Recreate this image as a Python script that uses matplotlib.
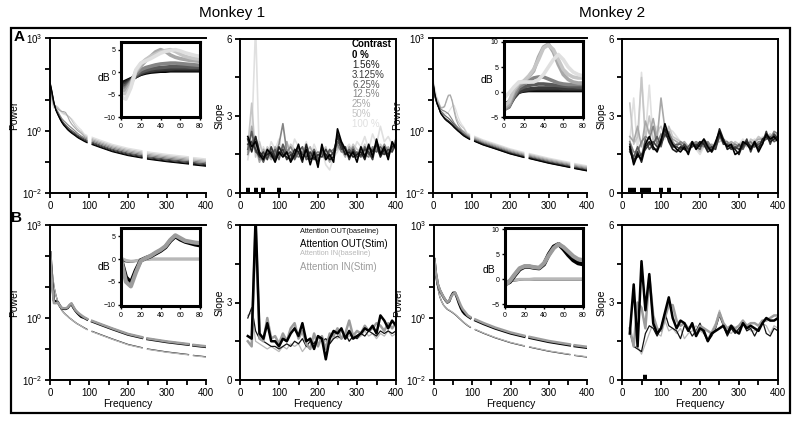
import numpy as np
import matplotlib.pyplot as plt
from matplotlib.patches import Rectangle
from matplotlib.ticker import NullLocator

plt.rcParams['font.family'] = ['Liberation Sans', 'DejaVu Sans']
plt.rcParams['axes.linewidth'] = 1.4

# ---------------- data ----------------
contrasts = ['0 %', '1.56%', '3.125%', '6.25%', '12.5%', '25%', '50%', '100 %']
contrast_colors = ['#000000', '#1e1e1e', '#3a3a3a', '#5a5a5a', '#858585', '#a8a8a8', '#c6c6c6', '#e0e0e0']

# frequency grids
freq_ins = [0, 5, 10, 15, 20, 25, 30, 35, 40, 45, 50, 55, 60, 65, 70, 75, 80]
freq_low = [1, 5, 10, 15, 20, 25, 30, 35, 40, 45, 50, 55, 60, 65, 70, 75, 80]
freq_high = [88, 95, 100, 108, 130, 160, 200, 236, 243, 250, 300, 355, 362, 368, 400]
freq_slope = [20, 30, 40, 50, 60, 70, 80, 90, 100, 110, 120, 130, 140, 150, 160, 170, 180, 190, 200,
              210, 220, 230, 240, 250, 260, 270, 280, 290, 300, 310, 320, 330, 340, 350, 360, 370, 380, 390, 400]

nan = np.nan
# pre-stimulus power spectra (line-noise bins removed)
m1_base_low = [60, 30, 12, 6.0, 3.8, 2.6, 1.9, 1.5, 1.25, 1.05, 0.9, 0.8, 0.72, 0.65, 0.58, 0.53, 0.49]
m1_base_high = [0.43, 0.39, nan, 0.34, 0.27, 0.2, 0.15, 0.125, nan, 0.115, 0.095, 0.08, nan, 0.075, 0.068]
m2_base_low = [60, 25, 10, 5.5, 3.5, 2.8, 2.3, 2.0, 1.8, 1.6, 1.4, 1.2, 1.05, 0.92, 0.82, 0.72, 0.64]
m2_base_high = [0.56, 0.5, nan, 0.43, 0.33, 0.25, 0.17, 0.13, nan, 0.12, 0.085, 0.062, nan, 0.057, 0.048]

# dB change per contrast (inset), 0-80 Hz
m1_db = [
    [-2.5, -2.0, -1.5, -1.0, -0.5, -0.2, 0.0, 0.1, 0.2, 0.2, 0.3, 0.3, 0.3, 0.3, 0.3, 0.3, 0.3],
    [-2.8, -2.2, -1.6, -1.0, -0.4, 0.0, 0.2, 0.3, 0.4, 0.4, 0.5, 0.5, 0.5, 0.5, 0.5, 0.5, 0.5],
    [-3.0, -2.6, -1.8, -1.0, -0.3, 0.1, 0.3, 0.5, 0.6, 0.7, 0.7, 0.8, 0.8, 0.8, 0.8, 0.8, 0.8],
    [-3.3, -3.0, -2.0, -0.8, 0.0, 0.4, 0.7, 0.9, 1.0, 1.1, 1.2, 1.2, 1.2, 1.2, 1.1, 1.1, 1.1],
    [-3.8, -3.5, -2.2, -0.5, 0.5, 1.0, 1.3, 1.6, 1.8, 1.9, 2.0, 2.0, 1.9, 1.8, 1.7, 1.6, 1.5],
    [-4.2, -4.0, -2.5, 0.0, 1.3, 2.5, 3.5, 4.5, 5.0, 4.6, 3.8, 3.3, 3.0, 2.8, 2.6, 2.5, 2.4],
    [-4.8, -4.8, -3.0, 0.2, 1.8, 2.8, 3.5, 4.0, 4.5, 4.8, 5.0, 4.6, 4.0, 3.5, 3.2, 3.0, 2.9],
    [-5.5, -6.0, -3.5, 0.5, 2.0, 2.5, 3.0, 3.6, 4.2, 4.6, 4.8, 5.0, 4.7, 4.3, 4.0, 3.7, 3.5],
]
m2_db = [
    [-2.5, -2.0, -0.8, 0.0, 0.2, 0.3, 0.3, 0.3, 0.3, 0.3, 0.3, 0.3, 0.3, 0.3, 0.3, 0.3, 0.3],
    [-3.0, -2.5, -1.0, 0.0, 0.3, 0.4, 0.5, 0.5, 0.5, 0.5, 0.5, 0.5, 0.5, 0.5, 0.5, 0.5, 0.5],
    [-3.2, -2.8, -1.2, 0.0, 0.4, 0.6, 0.7, 0.8, 0.8, 0.8, 0.8, 0.8, 0.7, 0.7, 0.7, 0.7, 0.7],
    [-3.5, -3.0, -1.0, 0.5, 1.0, 1.3, 1.5, 1.6, 1.6, 1.5, 1.4, 1.3, 1.2, 1.1, 1.1, 1.0, 1.0],
    [-3.5, -3.0, -0.8, 1.0, 1.6, 2.2, 2.8, 3.0, 3.0, 2.6, 2.2, 1.8, 1.6, 1.5, 1.5, 1.5, 1.5],
    [-3.2, -2.5, 0.0, 1.5, 2.0, 3.0, 4.2, 7.0, 9.0, 9.6, 8.0, 5.5, 3.5, 2.5, 2.0, 1.8, 1.8],
    [-2.8, -2.0, 0.5, 1.8, 2.2, 3.2, 4.5, 6.5, 8.8, 9.4, 8.5, 6.5, 4.5, 3.5, 3.0, 2.8, 2.8],
    [-1.2, -0.2, 1.0, 2.0, 2.0, 2.0, 2.0, 2.5, 3.5, 5.0, 6.5, 7.5, 6.5, 5.0, 4.0, 3.5, 3.2],
]
# dB change above 80 Hz
m1_hf_db = [0.3, 0.5, 0.8, 1.1, 1.5, 1.9, 2.3, 2.7]
m2_hf_db = [0.3, 0.4, 0.6, 0.8, 1.1, 1.4, 1.7, 2.0]

m1_slope = [
    [2.2, 1.8, 2.0, 1.5, 1.3, 1.7, 1.5, 1.2, 1.6, 1.4, 1.6, 1.2, 1.5, 1.9, 1.3, 1.7, 1.1, 1.6, 1.0, 1.9, 1.3, 1.5, 1.2, 2.5, 2.0, 1.7, 1.4, 1.6, 1.2, 1.8, 1.4, 1.9, 1.4, 2.1, 1.5, 1.8, 1.3, 2.0, 1.7],
    [2.1, 1.6, 2.2, 1.6, 1.4, 1.5, 1.6, 1.3, 1.8, 1.5, 1.4, 1.3, 1.7, 1.6, 1.2, 1.9, 1.3, 1.4, 1.2, 1.7, 1.5, 1.3, 1.4, 2.3, 1.9, 1.5, 1.6, 1.4, 1.5, 1.6, 1.3, 1.8, 1.6, 1.9, 1.4, 1.7, 1.5, 1.8, 1.9],
    [1.9, 2.0, 1.7, 1.4, 1.6, 1.3, 1.8, 1.4, 1.5, 1.7, 1.3, 1.5, 1.4, 1.8, 1.5, 1.4, 1.6, 1.3, 1.5, 1.4, 1.7, 1.4, 1.6, 2.2, 1.7, 1.8, 1.3, 1.7, 1.4, 1.5, 1.7, 1.6, 1.3, 2.0, 1.6, 1.5, 1.7, 1.6, 2.0],
    [1.7, 2.4, 1.6, 1.5, 1.2, 1.6, 1.4, 1.7, 1.3, 1.9, 1.5, 1.6, 1.3, 1.6, 1.8, 1.3, 1.4, 1.7, 1.3, 1.6, 1.4, 1.7, 1.5, 2.0, 1.8, 1.5, 1.7, 1.5, 1.6, 1.4, 1.8, 1.5, 1.7, 1.6, 1.8, 1.6, 1.4, 1.9, 1.8],
    [1.5, 2.0, 2.2, 1.3, 1.5, 1.4, 1.7, 1.5, 1.9, 2.7, 1.6, 1.8, 1.5, 1.4, 1.6, 1.5, 1.3, 1.5, 1.6, 1.5, 1.3, 1.6, 1.7, 1.9, 1.6, 1.6, 1.5, 1.8, 1.5, 1.7, 1.5, 1.4, 1.8, 1.7, 1.5, 1.9, 1.6, 1.7, 2.1],
    [1.6, 2.6, 1.8, 1.2, 1.7, 1.5, 1.3, 1.8, 1.6, 1.5, 2.0, 1.4, 1.6, 1.7, 1.4, 1.6, 1.8, 1.4, 1.3, 1.8, 1.5, 1.2, 1.5, 1.8, 1.7, 1.4, 1.8, 1.6, 1.4, 1.8, 1.6, 1.7, 1.5, 1.8, 1.7, 1.6, 1.8, 1.6, 1.9],
    [1.8, 3.5, 1.4, 2.0, 1.4, 1.8, 1.6, 1.4, 1.7, 1.8, 1.5, 1.9, 1.7, 1.5, 1.7, 1.8, 1.5, 1.7, 1.4, 1.6, 1.8, 1.3, 1.6, 1.7, 1.9, 1.6, 1.5, 1.9, 1.7, 1.6, 1.9, 1.5, 1.8, 1.6, 1.9, 1.7, 1.6, 1.8, 1.7],
    [1.3, 2.2, 6.5, 1.2, 1.8, 1.4, 2.0, 1.7, 2.1, 1.6, 2.0, 1.5, 2.1, 1.8, 1.6, 2.0, 1.4, 1.9, 1.5, 1.7, 1.1, 0.9, 1.4, 1.6, 2.0, 1.7, 1.9, 1.6, 2.0, 1.8, 2.2, 1.7, 2.3, 1.9, 2.6, 2.0, 2.2, 1.9, 2.1],
]
m2_slope = [
    [1.8, 1.1, 1.5, 1.3, 1.9, 2.2, 1.8, 1.6, 2.0, 2.7, 2.2, 1.9, 1.7, 1.6, 1.8, 1.5, 2.0, 1.7, 1.9, 2.1, 1.8, 1.6, 2.0, 2.4, 2.0, 1.8, 1.9, 1.5, 1.6, 2.0, 1.9, 1.7, 2.0, 1.6, 1.9, 2.3, 2.1, 2.2, 2.0],
    [1.7, 1.2, 1.6, 1.2, 1.8, 2.0, 1.7, 1.7, 2.1, 2.5, 2.0, 1.7, 1.6, 1.8, 1.7, 1.6, 1.9, 1.8, 2.0, 1.9, 1.6, 1.7, 1.9, 2.5, 2.1, 1.7, 1.8, 1.7, 1.5, 1.9, 2.0, 1.8, 1.9, 1.7, 2.1, 2.2, 2.0, 2.1, 2.2],
    [1.9, 1.3, 1.4, 1.5, 1.7, 1.9, 2.0, 1.8, 1.9, 2.3, 2.1, 1.8, 1.8, 1.7, 1.9, 1.7, 1.8, 1.9, 1.8, 2.0, 1.7, 1.8, 1.7, 2.3, 1.9, 1.9, 1.7, 1.8, 1.7, 1.8, 2.1, 1.6, 2.0, 1.8, 1.9, 2.4, 1.9, 2.3, 2.1],
    [1.6, 1.4, 1.8, 1.4, 2.1, 1.7, 1.9, 2.2, 1.8, 2.4, 2.3, 1.8, 1.9, 1.9, 1.7, 1.8, 2.0, 1.8, 1.7, 2.1, 1.9, 1.6, 1.8, 2.2, 2.1, 1.8, 1.9, 1.7, 1.9, 1.7, 2.0, 1.8, 1.8, 1.9, 2.0, 2.1, 2.2, 2.0, 2.1],
    [2.0, 1.6, 1.6, 2.0, 2.2, 2.1, 2.6, 1.9, 2.3, 2.2, 2.4, 2.0, 1.8, 2.0, 1.9, 1.7, 1.9, 2.0, 1.9, 1.8, 2.0, 1.8, 1.9, 2.3, 2.0, 2.0, 1.8, 1.9, 1.8, 1.9, 1.9, 2.0, 1.8, 2.0, 2.0, 2.2, 2.1, 2.4, 2.3],
    [2.2, 2.0, 2.6, 1.8, 2.8, 2.3, 2.9, 2.1, 3.7, 2.5, 2.3, 2.1, 2.0, 1.9, 2.0, 1.8, 2.0, 1.9, 2.0, 1.9, 1.8, 1.9, 1.8, 2.2, 2.0, 1.9, 2.0, 1.9, 1.8, 2.0, 1.9, 1.9, 2.0, 2.1, 2.1, 2.3, 2.2, 2.2, 2.3],
    [3.5, 1.9, 2.2, 4.5, 2.1, 3.0, 2.0, 2.4, 2.6, 2.2, 2.6, 2.2, 2.1, 2.0, 1.8, 1.7, 1.9, 1.8, 1.6, 1.9, 2.0, 1.7, 1.9, 2.0, 2.1, 2.0, 1.8, 2.0, 1.9, 2.0, 1.8, 2.1, 2.0, 2.2, 2.1, 2.2, 2.3, 2.1, 2.2],
    [2.0, 3.7, 1.6, 4.7, 2.2, 4.2, 2.0, 2.6, 2.3, 2.1, 2.5, 2.4, 2.2, 2.0, 1.9, 1.6, 1.9, 1.7, 1.5, 1.8, 1.9, 1.8, 2.0, 2.1, 2.0, 1.9, 2.0, 1.8, 1.9, 2.1, 1.9, 2.0, 2.1, 1.9, 2.2, 2.1, 2.3, 2.2, 2.4],
]

# significance bars (Hz ranges)
m1_sig_a = [(15, 25), (35, 45), (55, 65), (95, 105)]
m2_sig_a = [(15, 35), (45, 75), (95, 105), (115, 125)]
m1_sig_b = []
m2_sig_b = [(55, 65)]

# attention conditions
conditions = ['Attention OUT(baseline)', 'Attention OUT(Stim)', 'Attention IN(baseline)', 'Attention IN(Stim)']
cond_colors = ['#111111', '#000000', '#b8b8b8', '#9c9c9c']

b1_base_low = [130, 40, 12, 6.0, 3.5, 2.4, 1.8, 1.5, 1.3, 1.15, 1.0, 0.9, 0.8, 0.72, 0.65, 0.6, 0.55]
b1_base_high = [0.48, 0.43, nan, 0.37, 0.29, 0.21, 0.14, 0.11, nan, 0.1, 0.08, 0.066, nan, 0.062, 0.056]
b2_base_low = [100, 30, 10, 5.0, 3.4, 2.6, 2.2, 1.9, 1.75, 1.6, 1.45, 1.3, 1.15, 1.0, 0.88, 0.77, 0.68]
b2_base_high = [0.57, 0.5, nan, 0.42, 0.32, 0.23, 0.16, 0.125, nan, 0.115, 0.085, 0.066, nan, 0.062, 0.055]

b1_db = [
    [-0.3, -0.5, -0.6, -0.4, -0.2, -0.1, 0.0, 0.0, 0.0, 0.0, 0.0, 0.0, 0.0, 0.0, 0.0, 0.0, 0.0],
    [0.0, -4.0, -5.2, -2.5, -0.3, 0.2, 0.6, 1.2, 1.8, 2.6, 4.0, 5.0, 4.3, 3.8, 3.5, 3.2, 3.0],
    [0.2, -0.3, -0.5, -0.4, -0.2, -0.1, 0.0, 0.0, 0.0, 0.0, 0.0, 0.0, 0.0, 0.0, 0.0, 0.0, 0.0],
    [0.0, -5.0, -6.0, -3.0, -0.4, 0.2, 0.7, 1.4, 2.0, 2.8, 4.2, 5.2, 4.6, 4.0, 3.8, 3.6, 3.5],
]
b2_db = [
    [-0.8, -0.4, -0.2, -0.1, 0.0, 0.0, 0.0, 0.0, 0.0, 0.0, 0.0, 0.0, 0.0, 0.0, 0.0, 0.0, 0.0],
    [-1.0, -0.5, 0.8, 2.0, 2.5, 2.5, 2.3, 2.2, 3.0, 5.0, 6.5, 7.0, 6.0, 4.8, 3.8, 3.2, 3.0],
    [-0.5, -0.3, -0.1, 0.0, 0.0, 0.0, 0.1, 0.1, 0.1, 0.1, 0.1, 0.1, 0.1, 0.1, 0.1, 0.1, 0.1],
    [-1.2, -0.3, 1.0, 2.2, 2.6, 2.6, 2.4, 2.3, 3.2, 4.8, 6.2, 7.0, 6.4, 5.5, 4.6, 4.0, 3.8],
]
b1_hf_db = [0.0, 3.2, -0.1, 3.4]
b2_hf_db = [0.0, 3.0, 0.1, 3.3]

b1_slope = [
    [2.4, 2.8, 1.9, 1.6, 1.5, 1.4, 1.3, 1.3, 1.2, 1.3, 1.4, 1.3, 1.5, 1.4, 1.6, 1.3, 1.5, 1.4, 1.7, 1.5, 1.6, 1.4, 1.6, 1.7, 1.6, 1.8, 1.5, 1.7, 1.6, 1.8, 1.7, 1.9, 1.8, 1.7, 1.9, 1.8, 1.9, 1.8, 1.9],
    [1.7, 1.6, 6.3, 1.8, 1.6, 2.2, 1.5, 1.5, 1.3, 1.6, 1.5, 1.8, 2.0, 1.7, 2.2, 1.5, 1.6, 1.2, 1.7, 1.6, 0.8, 1.6, 1.9, 1.8, 2.0, 1.6, 1.9, 1.6, 1.7, 1.8, 2.0, 1.9, 2.1, 1.8, 2.5, 2.3, 2.0, 2.3, 2.1],
    [2.5, 2.6, 1.5, 1.4, 1.3, 1.2, 1.3, 1.2, 1.1, 1.3, 1.2, 1.4, 1.3, 1.4, 1.1, 1.3, 1.2, 1.5, 1.4, 1.6, 1.5, 1.4, 1.7, 1.6, 1.9, 1.6, 1.7, 1.8, 1.6, 1.7, 1.9, 1.7, 1.8, 1.6, 1.8, 1.7, 1.9, 1.7, 1.8],
    [1.5, 1.3, 6.0, 1.6, 1.5, 2.4, 1.6, 1.7, 1.4, 1.8, 1.5, 2.0, 2.2, 1.6, 1.9, 1.4, 1.2, 1.8, 1.3, 1.7, 1.2, 1.8, 1.7, 2.0, 1.6, 1.8, 2.3, 1.7, 1.9, 1.8, 2.1, 1.9, 2.0, 2.2, 2.1, 1.9, 2.2, 2.0, 2.2],
]
b2_slope = [
    [1.9, 1.3, 1.2, 1.1, 1.8, 2.1, 2.0, 1.7, 2.0, 2.6, 2.1, 2.0, 1.9, 1.6, 2.1, 2.0, 1.7, 1.9, 2.2, 1.8, 1.5, 1.7, 2.0, 2.5, 2.1, 1.7, 2.0, 1.8, 2.0, 2.2, 1.9, 2.0, 1.7, 2.0, 2.3, 1.8, 1.7, 2.0, 1.9],
    [1.8, 3.7, 1.3, 4.6, 2.7, 4.1, 2.2, 1.8, 2.0, 2.6, 3.2, 2.4, 2.0, 2.3, 2.2, 1.9, 2.2, 1.7, 2.0, 1.9, 1.5, 1.8, 1.9, 2.0, 2.1, 1.8, 2.1, 1.9, 1.8, 2.2, 2.0, 2.1, 2.0, 1.9, 2.2, 2.4, 2.3, 2.3, 2.4],
    [1.8, 1.3, 1.3, 1.0, 1.4, 1.8, 2.2, 1.8, 1.7, 2.3, 1.9, 2.0, 1.8, 2.0, 1.6, 1.8, 1.9, 2.1, 1.9, 1.8, 1.6, 1.9, 2.2, 2.7, 2.2, 1.9, 1.8, 2.0, 1.9, 2.3, 2.1, 1.9, 1.9, 2.0, 2.2, 2.1, 1.8, 2.1, 2.0],
    [2.0, 1.3, 3.0, 2.8, 2.0, 4.0, 2.5, 2.0, 1.9, 2.4, 2.9, 2.9, 2.3, 2.1, 2.2, 2.0, 2.1, 1.8, 2.1, 2.0, 1.9, 1.8, 2.1, 2.6, 2.2, 2.0, 2.1, 2.0, 2.1, 2.3, 2.1, 2.2, 2.2, 2.1, 2.3, 2.3, 2.4, 2.5, 2.5],
]

# ---------------- figure ----------------
W, H = 800, 423
fig = plt.figure(figsize=(8, 4.23), dpi=100)


def box(x0, y0, x1, y1):
    return [x0 / W, 1 - y1 / H, (x1 - x0) / W, (y1 - y0) / H]


def freq_axis(ax, xlabel):
    ax.set_xlim(0, 400)
    ax.set_xticks(range(0, 401, 50))
    ax.set_xticklabels(['0', '', '100', '', '200', '', '300', '', '400'])
    ax.tick_params(direction='out', length=3.5, width=1.3, labelsize=7, pad=2)
    if xlabel:
        ax.set_xlabel('Frequency', fontsize=7.5, labelpad=1)


def power_axes(rect, xlabel):
    ax = fig.add_axes(box(*rect))
    ax.set_yscale('log')
    ax.set_ylim(1e-2, 1e3)
    ax.set_yticks([1e-2, 1e-1, 1, 1e1, 1e2, 1e3])
    ax.set_yticklabels([r'$\mathregular{10^{-2}}$', '', r'$\mathregular{10^{0}}$', '', '',
                        r'$\mathregular{10^{3}}$'])
    ax.yaxis.set_minor_locator(NullLocator())
    ax.spines['right'].set_visible(False)
    freq_axis(ax, xlabel)
    ax.set_ylabel('Power', fontsize=7.5, labelpad=2)
    return ax


def slope_axes(rect, xlabel):
    ax = fig.add_axes(box(*rect))
    ax.set_ylim(0, 6)
    ax.set_yticks([0, 1.5, 3, 4.5, 6])
    ax.set_yticklabels(['0', '', '3', '', '6'])
    freq_axis(ax, xlabel)
    ax.set_ylabel('Slope', fontsize=7.5, labelpad=2)
    return ax


def inset_axes(rect, ylim, yticks, label_y):
    ax = fig.add_axes(box(*rect))
    for sp in ax.spines.values():
        sp.set_linewidth(2.2)
    ax.set_xlim(0, 80)
    ax.set_ylim(*ylim)
    ax.set_xticks([0, 20, 40, 60, 80])
    ax.set_yticks(yticks)
    ax.tick_params(direction='out', length=2.5, width=1, labelsize=5, pad=1.5)
    ax.set_ylabel('dB', rotation=0, fontsize=7.5, ha='right', va='center')
    ax.yaxis.set_label_coords(-0.13, label_y)
    return ax


def spectrum(base_low, base_high, db, hf):
    low = np.array(base_low) * 10 ** (np.array(db) / 10)
    high = np.array(base_high) * 10 ** (hf / 10)
    return freq_low + freq_high, np.concatenate([low, high])


# ---- Row A: contrast ----
for base_low, base_high, db, hf, slopes, sig, rects, ilim, iticks, ly in [
    (m1_base_low, m1_base_high, m1_db, m1_hf_db, m1_slope, m1_sig_a,
     [(50, 38, 206, 193), (121, 42, 200, 117), (240, 39, 396, 193)], (-10, 6.7), [-10, -5, 0, 5], 0.52),
    (m2_base_low, m2_base_high, m2_db, m2_hf_db, m2_slope, m2_sig_a,
     [(433, 38, 587, 193), (504, 41, 583, 117), (622, 39, 778, 193)], (-5, 10.2), [-5, 0, 5, 10], 0.49),
]:
    axp = power_axes(rects[0], False)
    for k in range(7, -1, -1):
        f, p = spectrum(base_low, base_high, db[k], hf[k])
        axp.plot(f, p, color=contrast_colors[k], lw=0.8)
    axi = inset_axes(rects[1], ilim, iticks, ly)
    for k in range(8):
        axi.plot(freq_ins, db[k], color=contrast_colors[k], lw=2.6, solid_capstyle='round')
    axs = slope_axes(rects[2], False)
    for k in range(7, -1, -1):
        axs.plot(freq_slope, slopes[k], color=contrast_colors[k], lw=1.2)
    for a, b in sig:
        axs.plot([a, b], [0.12, 0.12], color='black', lw=3.2, solid_capstyle='butt')
    if slopes is m1_slope:
        axs.text(0.718, 0.967, 'Contrast', transform=axs.transAxes, fontsize=7,
                 weight='bold', va='center', ha='left')
        for k, lab in enumerate(contrasts):
            axs.text(0.718, 0.895 - k * 0.0637, lab, transform=axs.transAxes, fontsize=7,
                     color=contrast_colors[k], weight='bold' if k == 0 else 'normal',
                     va='center', ha='left')

# ---- Row B: attention ----
cond_lw_main = [0.9, 1.8, 0.9, 1.8]
cond_lw_ins = [1.6, 3.0, 2.2, 3.0]
cond_lw_slope = [0.9, 1.8, 0.9, 1.8]
draw_order = [0, 2, 1, 3]
slope_order = [2, 0, 3, 1]
for base_low, base_high, db, hf, slopes, sig, rects, ilim, iticks, ly in [
    (b1_base_low, b1_base_high, b1_db, b1_hf_db, b1_slope, m1_sig_b,
     [(50, 225, 206, 380), (121, 228, 200, 306), (240, 225, 396, 380)], (-10.3, 6.8), [-10, -5, 0, 5], 0.5),
    (b2_base_low, b2_base_high, b2_db, b2_hf_db, b2_slope, m2_sig_b,
     [(434, 225, 587, 380), (505, 228, 583, 306), (622, 225, 778, 380)], (-5.3, 10.2), [-5, 0, 5, 10], 0.46),
]:
    axp = power_axes(rects[0], True)
    for k in draw_order:
        f, p = spectrum(base_low, base_high, db[k], hf[k])
        axp.plot(f, p, color=cond_colors[k], lw=cond_lw_main[k])
    axi = inset_axes(rects[1], ilim, iticks, ly)
    for k in draw_order:
        axi.plot(freq_ins, db[k], color=cond_colors[k], lw=cond_lw_ins[k], solid_capstyle='round')
    axs = slope_axes(rects[2], True)
    for k in slope_order:
        axs.plot(freq_slope, slopes[k], color=cond_colors[k], lw=cond_lw_slope[k])
    for a, b in sig:
        axs.plot([a, b], [0.12, 0.12], color='black', lw=3.2, solid_capstyle='butt')
    if slopes is b1_slope:
        ys = [0.957, 0.877, 0.813, 0.727]
        sizes = [5.3, 7, 5.3, 7]
        for k in range(4):
            axs.text(0.385, ys[k], conditions[k], transform=axs.transAxes, fontsize=sizes[k],
                     color=cond_colors[k], va='center', ha='left')

# titles, panel letters, frame
fig.text(232 / W, 1 - 13 / H, 'Monkey 1', ha='center', va='center', fontsize=11)
fig.text(612 / W, 1 - 13 / H, 'Monkey 2', ha='center', va='center', fontsize=11)
fig.text(19 / W, 1 - 37 / H, 'A', ha='center', va='center', fontsize=11, weight='bold')
fig.text(17 / W, 1 - 218 / H, 'B', ha='center', va='center', fontsize=11, weight='bold')
fig.patches.append(Rectangle((11 / W, 1 - 413 / H), (790 - 11) / W, (413 - 28) / H,
                             transform=fig.transFigure, fill=False, lw=1.6, ec='black'))

fig.savefig('out.png', dpi=100)
